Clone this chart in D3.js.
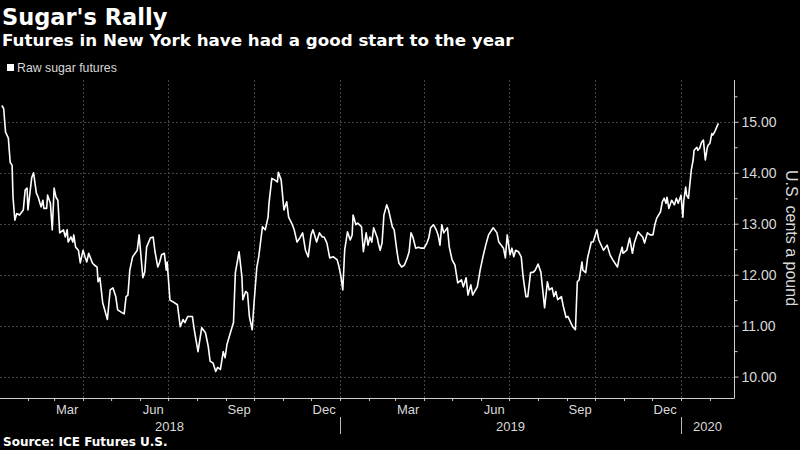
<!DOCTYPE html>
<html>
<head>
<meta charset="utf-8">
<script src="https://cdn.jsdelivr.net/npm/d3@7"></script>
<style>
  body { margin: 0; background: #000; }
  svg { display: block; background: #000; }
  .title { font-family: "DejaVu Sans", sans-serif; font-weight: bold; fill: #fff; }
  .lab { font-family: "Liberation Sans", Arial, sans-serif; fill: #d9d9d9; }
  .axis path, .axis line { stroke: #cfcfcf; }
  .grid line { stroke: #444; stroke-dasharray: 2,2; }
</style>
</head>
<body>
<div id="chart"></div>
<script>
// raw sugar futures, U.S. cents a pound
const dates = [
  "2018-01-04","2018-01-06","2018-01-08","2018-01-11","2018-01-13","2018-01-15","2018-01-16","2018-01-18",
  "2018-01-20","2018-01-23","2018-01-27","2018-01-29","2018-01-31","2018-02-01","2018-02-05","2018-02-07",
  "2018-02-10","2018-02-12","2018-02-15","2018-02-17","2018-02-18","2018-02-21","2018-02-22","2018-02-25",
  "2018-02-27","2018-03-01","2018-03-03","2018-03-05","2018-03-07","2018-03-11","2018-03-13","2018-03-15",
  "2018-03-16","2018-03-19","2018-03-21","2018-03-22","2018-03-24","2018-03-27","2018-03-29","2018-04-01",
  "2018-04-03","2018-04-05","2018-04-07","2018-04-11","2018-04-13","2018-04-16","2018-04-17","2018-04-19",
  "2018-04-22","2018-04-27","2018-04-30","2018-05-03","2018-05-06","2018-05-08","2018-05-13","2018-05-15",
  "2018-05-17","2018-05-19","2018-05-21","2018-05-24","2018-05-29","2018-05-31","2018-06-04","2018-06-06",
  "2018-06-08","2018-06-12","2018-06-15","2018-06-17","2018-06-20","2018-06-22","2018-06-24","2018-06-27",
  "2018-06-29","2018-06-30","2018-07-03","2018-07-06","2018-07-11","2018-07-14","2018-07-17","2018-07-19",
  "2018-07-22","2018-07-27","2018-07-29","2018-08-02","2018-08-06","2018-08-10","2018-08-13","2018-08-15",
  "2018-08-18","2018-08-21","2018-08-23","2018-08-26","2018-08-29","2018-08-31","2018-09-02","2018-09-06",
  "2018-09-09","2018-09-11","2018-09-15","2018-09-18","2018-09-19","2018-09-22","2018-09-24","2018-09-26",
  "2018-09-29","2018-10-01","2018-10-04","2018-10-06","2018-10-10","2018-10-13","2018-10-16","2018-10-17",
  "2018-10-20","2018-10-23","2018-10-26","2018-10-27","2018-10-30","2018-11-02","2018-11-05","2018-11-07",
  "2018-11-11","2018-11-13","2018-11-16","2018-11-19","2018-11-22","2018-11-25","2018-11-28","2018-12-01",
  "2018-12-03","2018-12-07","2018-12-10","2018-12-13","2018-12-15","2018-12-18","2018-12-21","2018-12-25",
  "2018-12-29","2018-12-31","2019-01-02","2019-01-04","2019-01-06","2019-01-09","2019-01-12","2019-01-14",
  "2019-01-15","2019-01-18","2019-01-20","2019-01-24","2019-01-26","2019-01-29","2019-01-31","2019-02-02",
  "2019-02-04","2019-02-06","2019-02-10","2019-02-11","2019-02-13","2019-02-15","2019-02-17","2019-02-20",
  "2019-02-22","2019-02-26","2019-02-28","2019-03-03","2019-03-05","2019-03-08","2019-03-11","2019-03-14",
  "2019-03-16","2019-03-18","2019-03-20","2019-03-23","2019-03-26","2019-03-29","2019-04-01","2019-04-04",
  "2019-04-06","2019-04-08","2019-04-11","2019-04-14","2019-04-16","2019-04-18","2019-04-20","2019-04-22",
  "2019-04-26","2019-04-28","2019-05-01","2019-05-04","2019-05-07","2019-05-11","2019-05-13","2019-05-16",
  "2019-05-18","2019-05-21","2019-05-23","2019-05-26","2019-05-28","2019-05-31","2019-06-03","2019-06-06",
  "2019-06-09","2019-06-14","2019-06-18","2019-06-20","2019-06-25","2019-06-27","2019-06-29","2019-07-02",
  "2019-07-04","2019-07-06","2019-07-08","2019-07-11","2019-07-14","2019-07-16","2019-07-19","2019-07-21",
  "2019-07-24","2019-07-27","2019-07-29","2019-08-01","2019-08-04","2019-08-06","2019-08-08","2019-08-11",
  "2019-08-13","2019-08-16","2019-08-18","2019-08-20","2019-08-22","2019-08-26","2019-08-28","2019-08-31",
  "2019-09-02","2019-09-05","2019-09-07","2019-09-10","2019-09-12","2019-09-14","2019-09-17","2019-09-18",
  "2019-09-21","2019-09-23","2019-09-27","2019-09-29","2019-10-03","2019-10-05","2019-10-10","2019-10-14",
  "2019-10-17","2019-10-20","2019-10-25","2019-10-27","2019-10-30","2019-10-31","2019-11-04","2019-11-07",
  "2019-11-10","2019-11-12","2019-11-16","2019-11-19","2019-11-21","2019-11-23","2019-11-26","2019-11-29",
  "2019-12-02","2019-12-04","2019-12-06","2019-12-10","2019-12-12","2019-12-14","2019-12-16","2019-12-17",
  "2019-12-19","2019-12-22","2019-12-25","2019-12-27","2019-12-29","2020-01-01","2020-01-03","2020-01-04",
  "2020-01-06","2020-01-07","2020-01-09","2020-01-12","2020-01-14","2020-01-15","2020-01-18","2020-01-19",
  "2020-01-21","2020-01-23","2020-01-25","2020-01-27","2020-01-29","2020-01-30","2020-02-01","2020-02-03",
  "2020-02-04","2020-02-06","2020-02-09","2020-02-10"
];
const prices = [
  15.32,15.26,14.80,14.68,14.20,14.15,13.52,13.07,
  13.20,13.17,13.27,13.66,13.70,13.27,13.90,14.00,
  13.60,13.52,13.33,13.46,13.30,13.30,13.56,13.40,
  12.88,13.70,13.52,13.46,12.82,12.88,12.74,12.88,
  12.64,12.74,12.64,12.78,12.54,12.48,12.23,12.48,
  12.35,12.25,12.42,12.23,12.19,12.15,11.86,11.94,
  11.45,11.12,11.70,11.74,11.57,11.31,11.25,11.23,
  11.57,11.60,12.09,12.35,12.48,12.78,11.94,12.05,
  12.54,12.72,12.74,12.45,12.15,12.25,12.39,12.42,
  12.09,12.25,11.50,11.47,11.41,10.98,11.12,11.06,
  11.18,11.18,10.92,10.49,10.96,10.86,10.59,10.30,
  10.27,10.10,10.18,10.14,10.49,10.37,10.63,10.88,
  11.06,12.04,12.45,11.96,11.51,11.67,11.64,11.18,
  10.92,11.45,12.15,12.35,12.94,12.88,13.13,13.40,
  13.89,13.86,13.82,14.01,13.86,13.27,13.43,13.13,
  12.98,12.88,12.64,12.72,12.82,12.48,12.35,12.78,
  12.88,12.64,12.82,12.74,12.74,12.62,12.33,12.35,
  12.29,12.15,11.96,11.70,12.48,12.84,12.68,12.78,
  13.17,12.98,13.01,12.94,12.45,12.82,12.58,12.74,
  12.64,12.92,12.72,12.62,12.48,12.62,13.17,13.37,
  13.27,12.94,12.88,12.45,12.23,12.15,12.19,12.33,
  12.45,12.82,12.74,12.52,12.54,12.52,12.52,12.62,
  12.72,12.92,12.98,12.88,12.78,12.58,12.98,12.82,
  12.92,12.54,12.29,12.19,11.84,11.90,11.76,11.94,
  11.60,11.80,11.60,11.70,11.76,12.09,12.35,12.58,
  12.78,12.92,12.82,12.64,12.52,12.33,12.78,12.39,
  12.52,12.35,12.48,12.45,12.35,11.96,11.57,11.57,
  12.04,12.05,12.09,12.21,12.05,11.70,11.35,11.86,
  11.70,11.74,11.57,11.67,11.51,11.57,11.38,11.16,
  11.18,11.06,10.98,10.92,11.86,11.90,12.25,12.09,
  12.04,12.33,12.64,12.64,12.88,12.68,12.48,12.58,
  12.39,12.29,12.15,12.35,12.54,12.42,12.48,12.72,
  12.42,12.62,12.84,12.78,12.74,12.62,12.82,12.78,
  12.78,12.98,13.11,13.23,13.43,13.50,13.40,13.52,
  13.30,13.46,13.37,13.50,13.40,13.56,13.13,13.46,
  13.72,13.56,13.50,14.05,14.25,14.44,14.50,14.44,
  14.48,14.60,14.64,14.25,14.48,14.54,14.58,14.77,
  14.74,14.80,14.93,14.97
];
const yTicks = [10, 11, 12, 13, 14, 15];
const monthLabels = ["2018-03-15","2018-06-15","2018-09-15","2018-12-15","2019-03-15","2019-06-15","2019-09-15","2019-12-15"];
const yearLabels = ["2018", "2019", "2020"];
const seriesName = "Raw sugar futures";

const W = 800, H = 450;
const mLeft = 0, mRight = 734, mTop = 80, mBottom = 398;

const parse = d3.utcParse("%Y-%m-%d");
const data = dates.map((d, i) => ({ date: parse(d), value: prices[i] }));

const svg = d3.select("#chart").append("svg")
  .attr("width", W)
  .attr("height", H);

const x = d3.scaleUtc()
  .domain([new Date(Date.UTC(2018, 0, 1)), new Date(Date.UTC(2020, 0, 1))])
  .range([-1, 681]);
const xEnd = x.invert(mRight);

const y = d3.scaleLinear()
  .domain([9.58, 15.82])
  .range([mBottom, mTop]);

// grid
const quarters = d3.utcMonth.every(3).range(new Date(Date.UTC(2018, 3, 1)), xEnd);
svg.append("g").attr("class", "grid")
  .selectAll("line.v").data(quarters).enter().append("line")
  .attr("x1", d => Math.round(x(d)) + 0.5).attr("x2", d => Math.round(x(d)) + 0.5)
  .attr("y1", mTop).attr("y2", mBottom);
svg.append("g").attr("class", "grid")
  .selectAll("line.h").data(yTicks).enter().append("line")
  .attr("x1", mLeft).attr("x2", mRight)
  .attr("y1", d => Math.round(y(d)) + 0.5).attr("y2", d => Math.round(y(d)) + 0.5);

// x axis: month ticks, no labels
const months = d3.utcMonth.range(new Date(Date.UTC(2018, 1, 1)), xEnd);
svg.append("g").attr("class", "axis")
  .attr("transform", `translate(0,${mBottom})`)
  .call(d3.axisBottom(x).tickValues(months).tickSize(3).tickFormat("").tickSizeOuter(0))
  .call(g => g.select(".domain").attr("d", `M${mLeft},0.5H${mRight}`));

svg.append("g").selectAll("text.m").data(monthLabels).enter().append("text")
  .attr("class", "lab")
  .attr("x", d => x(parse(d)))
  .attr("y", 414)
  .attr("text-anchor", "middle")
  .style("font-size", "13px")
  .text(d => d3.utcFormat("%b")(parse(d)));

const yearPos = [
  (x(new Date(Date.UTC(2018, 0, 1))) + x(new Date(Date.UTC(2019, 0, 1)))) / 2,
  (x(new Date(Date.UTC(2019, 0, 1))) + x(new Date(Date.UTC(2020, 0, 1)))) / 2,
  (x(new Date(Date.UTC(2020, 0, 1))) + mRight) / 2
];
svg.append("g").selectAll("text.yr").data(yearLabels).enter().append("text")
  .attr("class", "lab")
  .attr("x", (d, i) => yearPos[i])
  .attr("y", 431)
  .attr("text-anchor", "middle")
  .style("font-size", "13px")
  .text(d => d);

svg.append("g").selectAll("line.sep")
  .data([new Date(Date.UTC(2019, 0, 1)), new Date(Date.UTC(2020, 0, 1))])
  .enter().append("line")
  .attr("x1", d => Math.round(x(d)) + 0.5).attr("x2", d => Math.round(x(d)) + 0.5)
  .attr("y1", 417).attr("y2", 434)
  .attr("stroke", "#bbb");

// y axis on the right
const yMinor = d3.range(10.5, 15.6, 1);
svg.append("g").attr("class", "axis")
  .attr("transform", `translate(${mRight + 0.5},0)`)
  .call(d3.axisRight(y).tickValues(yMinor).tickSize(3).tickFormat("").tickSizeOuter(0))
  .call(g => g.select(".domain").remove());
svg.append("g").attr("class", "axis")
  .attr("transform", `translate(${mRight + 0.5},0)`)
  .call(d3.axisRight(y).tickValues(yTicks).tickSize(4).tickPadding(3).tickFormat(d3.format(".2f")).tickSizeOuter(0))
  .call(g => g.select(".domain").attr("d", `M0,${mTop}V${mBottom + 0.5}`))
  .call(g => g.selectAll("text").attr("class", "lab").style("font-size", "14px"));

svg.append("text")
  .attr("class", "lab")
  .attr("transform", `translate(786,${(mTop + mBottom) / 2 - 1}) rotate(90)`)
  .attr("text-anchor", "middle")
  .style("font-size", "16px")
  .text("U.S. cents a pound");

// line
const line = d3.line()
  .x(d => x(d.date))
  .y(d => y(d.value));
svg.append("path")
  .datum(data)
  .attr("fill", "none")
  .attr("stroke", "#fff")
  .attr("stroke-width", 1.6)
  .attr("stroke-linejoin", "round")
  .attr("d", line);

// titles
svg.append("text").attr("class", "title")
  .attr("x", 2).attr("y", 25)
  .style("font-size", "22.5px")
  .text("Sugar's Rally");
svg.append("text").attr("class", "title")
  .attr("x", 2).attr("y", 46)
  .style("font-size", "16.7px")
  .text("Futures in New York have had a good start to the year");

// legend
svg.append("rect")
  .attr("x", 7).attr("y", 64).attr("width", 7).attr("height", 7)
  .attr("fill", "#fff");
svg.append("text").attr("class", "lab")
  .attr("x", 17).attr("y", 72)
  .style("font-size", "12.3px")
  .text(seriesName);

svg.append("text").attr("class", "title")
  .attr("x", 3).attr("y", 446)
  .style("font-size", "12px")
  .text("Source: ICE Futures U.S.");
</script>
</body>
</html>
